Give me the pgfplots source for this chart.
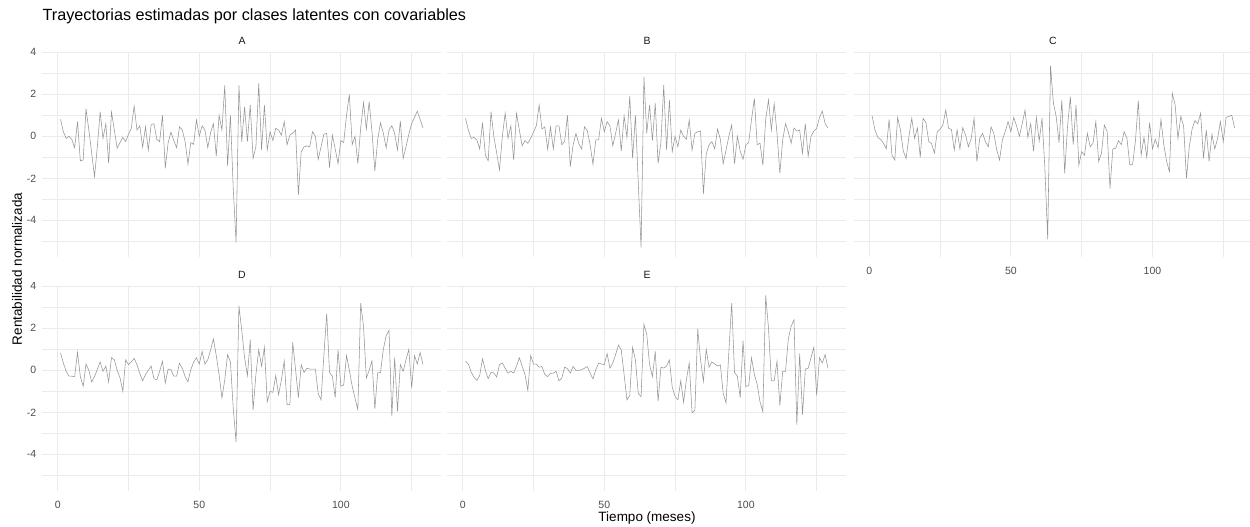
\documentclass[border=0pt]{standalone}
\usepackage{pgfplots}
\usepackage{pgfplotstable}
\pgfplotsset{compat=1.18}
\usepackage{fontspec}
\setmainfont{Liberation Sans}
\definecolor{gridc}{HTML}{EBEBEB}
\definecolor{linec}{HTML}{959595}
\definecolor{tickc}{HTML}{4D4D4D}
\definecolor{stripc}{HTML}{1A1A1A}
\pgfplotstableread{
t A B C D E
1 0.81 0.86 0.97 0.83 0.43
2 0.22 0.30 0.30 0.35 0.30
3 -0.10 -0.10 -0.05 -0.05 -0.08
4 0.00 -0.05 -0.14 -0.28 -0.33
5 -0.15 -0.17 -0.33 -0.28 -0.48
6 -0.54 -0.60 -0.60 -0.30 -0.25
7 0.70 0.65 0.81 0.86 0.55
8 -1.17 -0.90 -0.90 -0.30 0.00
9 -1.13 -1.17 -1.13 -0.76 -0.40
10 1.32 1.17 0.90 0.30 -0.10
11 0.30 0.00 0.30 0.00 -0.13
12 -0.80 -0.80 -0.70 -0.55 -0.32
13 -1.92 -1.60 -1.05 -0.30 0.27
14 -0.50 0.00 0.00 0.05 0.35
15 1.17 1.10 0.86 0.40 0.10
16 -0.10 -0.10 -0.10 -0.05 -0.13
17 0.60 0.50 0.40 0.20 -0.05
18 -1.29 -1.13 -1.00 -0.55 -0.13
19 1.16 1.10 0.86 0.60 0.20
20 0.30 0.30 0.65 0.50 0.60
21 -0.57 -0.45 -0.25 0.00 0.20
22 -0.30 -0.20 -0.35 -0.35 -0.20
23 -0.05 -0.33 -0.80 -1.00 -0.95
24 -0.25 -0.10 0.22 0.50 0.71
25 0.10 0.20 0.33 0.27 0.30
26 0.38 0.50 0.54 0.40 0.30
27 1.44 1.49 1.25 0.57 0.15
28 0.30 0.35 0.38 0.27 0.18
29 0.50 0.45 0.33 -0.15 -0.20
30 -0.52 -0.62 -0.65 -0.50 -0.30
31 0.45 0.45 0.30 -0.20 -0.15
32 -0.65 -0.60 -0.60 0.00 -0.13
33 0.55 0.50 0.41 0.20 -0.05
34 0.60 0.50 0.06 -0.40 -0.50
35 -0.15 -0.40 -0.50 -0.45 -0.37
36 -0.25 -0.25 -0.10 -0.05 0.15
37 1.00 1.00 0.86 0.43 0.08
38 -1.52 -1.44 -1.20 -0.60 -0.13
39 -0.30 -0.40 -0.10 0.06 0.18
40 0.20 0.14 0.14 0.03 0.00
41 -0.20 -0.35 -0.25 -0.28 0.00
42 -0.54 -0.60 -0.50 -0.28 0.03
43 0.45 0.45 0.45 0.33 0.10
44 0.30 0.27 0.14 0.10 0.18
45 -0.25 -0.40 -0.65 -0.30 -0.13
46 -1.32 -1.33 -1.13 -0.55 -0.41
47 -0.30 -0.17 -0.17 0.03 0.03
48 -0.38 -0.17 0.22 0.38 0.35
49 0.78 0.86 0.70 0.60 0.30
50 0.00 0.22 0.22 0.30 0.27
51 0.50 0.70 0.90 0.90 0.80
52 0.30 0.50 0.50 0.30 0.10
53 -0.54 -0.45 0.00 0.50 0.35
54 0.18 0.14 0.60 0.97 0.75
55 0.60 0.78 1.25 1.49 1.20
56 -0.94 -0.70 -0.05 0.70 0.97
57 1.00 0.97 0.60 -0.20 -0.20
58 0.30 -0.05 -0.70 -1.32 -1.40
59 2.43 1.90 0.90 -0.45 -1.20
60 -1.41 -1.05 -0.22 0.75 1.10
61 1.00 1.00 0.86 0.40 0.50
62 -2.50 -2.20 -1.50 -1.80 -1.10
63 -5.06 -5.30 -4.90 -3.43 -1.25
64 2.44 2.84 3.35 3.08 2.20
65 -0.25 0.14 1.60 1.90 1.70
66 1.40 1.49 0.94 0.60 0.27
67 -0.25 -0.20 -0.30 -0.25 -0.30
68 1.49 1.57 1.73 1.46 0.90
69 -1.05 -1.29 -1.76 -1.90 -1.48
70 -0.50 -0.30 0.45 -0.20 0.15
71 2.52 2.44 1.89 0.98 0.11
72 -0.65 -0.65 -0.40 0.20 0.20
73 1.49 1.73 1.49 1.10 0.50
74 -0.65 -0.73 -1.37 -1.50 -0.80
75 0.22 0.00 -0.73 -1.00 -1.25
76 -0.20 -0.50 -0.90 -1.05 -1.40
77 0.38 0.30 0.14 -0.25 -0.50
78 0.30 0.00 -0.50 -1.16 -1.52
79 0.06 -0.14 -0.33 -0.45 -0.45
80 0.70 0.78 0.70 0.45 0.35
81 -0.40 -0.65 -1.20 -1.63 -2.03
82 0.06 0.14 -0.80 -1.63 -1.90
83 0.15 0.22 0.54 1.33 1.97
84 0.30 0.25 0.22 0.05 0.50
85 -2.79 -2.75 -2.48 -1.30 -0.53
86 -0.73 -0.85 -0.60 0.27 1.00
87 -0.50 -0.40 -0.57 -0.10 0.15
88 -0.46 -0.25 -0.20 0.10 0.40
89 -0.50 -0.60 -0.40 0.06 0.30
90 0.22 0.35 0.22 0.06 0.20
91 0.00 -0.15 -0.10 0.06 0.26
92 -1.10 -1.30 -1.37 -1.10 -1.10
93 -0.50 -0.65 -1.33 -1.40 -1.55
94 0.10 0.00 -0.20 0.70 0.90
95 0.14 0.54 1.70 2.70 3.20
96 -1.49 -1.30 -0.90 -0.10 -0.10
97 0.06 0.00 -0.05 -0.28 -0.28
98 -0.60 -0.70 -1.00 -1.30 -1.30
99 -1.30 -1.10 0.65 0.98 1.41
100 -0.20 -0.40 -0.60 -0.75 -0.77
101 -0.30 -0.30 -0.14 -0.70 -0.73
102 1.00 0.80 -0.55 0.70 0.60
103 2.00 1.81 0.80 0.00 -0.20
104 -0.40 -0.40 -0.40 -0.75 -0.67
105 0.00 -0.33 -1.20 -1.33 -1.50
106 -1.30 -1.38 -1.68 -1.87 -1.97
107 0.40 0.80 2.05 3.20 3.57
108 1.60 1.73 1.50 2.10 2.00
109 0.35 0.30 -0.10 -0.37 -0.50
110 1.65 1.55 0.95 0.00 -0.50
111 0.20 0.14 0.50 0.45 0.43
112 -1.65 -1.76 -2.00 -1.84 -1.68
113 -0.17 -0.17 -0.50 -0.12 -0.05
114 0.65 0.60 0.35 -0.10 -0.05
115 0.15 0.20 0.75 1.00 1.50
116 -0.55 -0.33 0.60 1.65 2.10
117 0.30 0.40 1.10 1.90 2.40
118 0.50 0.25 -1.05 -2.19 -2.60
119 0.14 0.30 0.30 0.60 0.80
120 -0.65 -0.80 -1.20 -1.95 -2.11
121 0.73 0.60 0.10 0.27 0.06
122 -1.05 -0.95 -0.60 -0.05 0.10
123 -0.50 0.00 -0.10 0.50 0.60
124 0.10 0.25 0.70 1.00 1.10
125 0.60 0.38 -0.25 -0.84 -1.20
126 0.90 0.90 0.90 0.70 0.60
127 1.20 1.20 0.95 0.30 0.35
128 0.80 0.60 1.00 0.85 0.75
129 0.40 0.40 0.40 0.27 0.10
}\data

\pgfplotsset{
  panel/.style={
    scale only axis, width=398.7pt, height=204.8pt,
    xmin=-5.4, xmax=135.4, ymin=-5.74, ymax=4.01,
    xtick={0,50,100}, minor xtick={25,75,125},
    ytick={-4,-2,0,2,4}, minor ytick={-5,-3,-1,1,3},
    grid=both,
    major grid style={color=gridc, line width=0.9pt},
    minor grid style={color=gridc, line width=0.5pt},
    axis line style={draw=none},
    major tick length=0pt, minor tick length=0pt,
    tick label style={font=\fontsize{10.5}{12}\selectfont, text=tickc},
    xticklabel style={inner sep=0pt, anchor=north, yshift=-10.5pt},
    yticklabel style={inner sep=0pt, anchor=east, xshift=-6pt},
    /pgf/number format/assume math mode=true,
    clip=false,
  },
  noxl/.style={xticklabels={}},
  noyl/.style={yticklabels={}},
  ser/.style={no marks, color=linec, line width=0.55pt},
}

\begin{document}
\begin{tikzpicture}
\useasboundingbox (0pt,0pt) rectangle (1250pt,527pt);
% titles
\node[anchor=base west, inner sep=0pt, font=\fontsize{16.2}{19}\selectfont] at (42.4pt,506pt) {Trayectorias estimadas por clases latentes con covariables};
\node[rotate=90, inner sep=0pt, font=\fontsize{13.5}{16}\selectfont] at (17pt,258pt) {Rentabilidad normalizada};
\node[inner sep=0pt, font=\fontsize{13.5}{16}\selectfont] at (647pt,9pt) {Tiempo (meses)};
% strip labels
\node[inner sep=0pt, text=stripc, font=\fontsize{10.5}{12}\selectfont] at (242pt,486pt) {A};
\node[inner sep=0pt, text=stripc, font=\fontsize{10.5}{12}\selectfont] at (647pt,486pt) {B};
\node[inner sep=0pt, text=stripc, font=\fontsize{10.5}{12}\selectfont] at (1053pt,486pt) {C};
\node[inner sep=0pt, text=stripc, font=\fontsize{10.5}{12}\selectfont] at (242pt,252pt) {D};
\node[inner sep=0pt, text=stripc, font=\fontsize{10.5}{12}\selectfont] at (647pt,252pt) {E};

\begin{axis}[panel, noxl, at={(42.4pt,474.9pt)}, anchor=north west]
\addplot[ser] table[x=t, y=A] {\data};
\end{axis}
\begin{axis}[panel, noxl, noyl, at={(447.4pt,474.9pt)}, anchor=north west]
\addplot[ser] table[x=t, y=B] {\data};
\end{axis}
\begin{axis}[panel, noyl, at={(854pt,474.9pt)}, anchor=north west]
\addplot[ser] table[x=t, y=C] {\data};
\end{axis}
\begin{axis}[panel, at={(42.4pt,240.9pt)}, anchor=north west]
\addplot[ser] table[x=t, y=D] {\data};
\end{axis}
\begin{axis}[panel, noyl, at={(447.4pt,240.9pt)}, anchor=north west]
\addplot[ser] table[x=t, y=E] {\data};
\end{axis}
\end{tikzpicture}
\end{document}
